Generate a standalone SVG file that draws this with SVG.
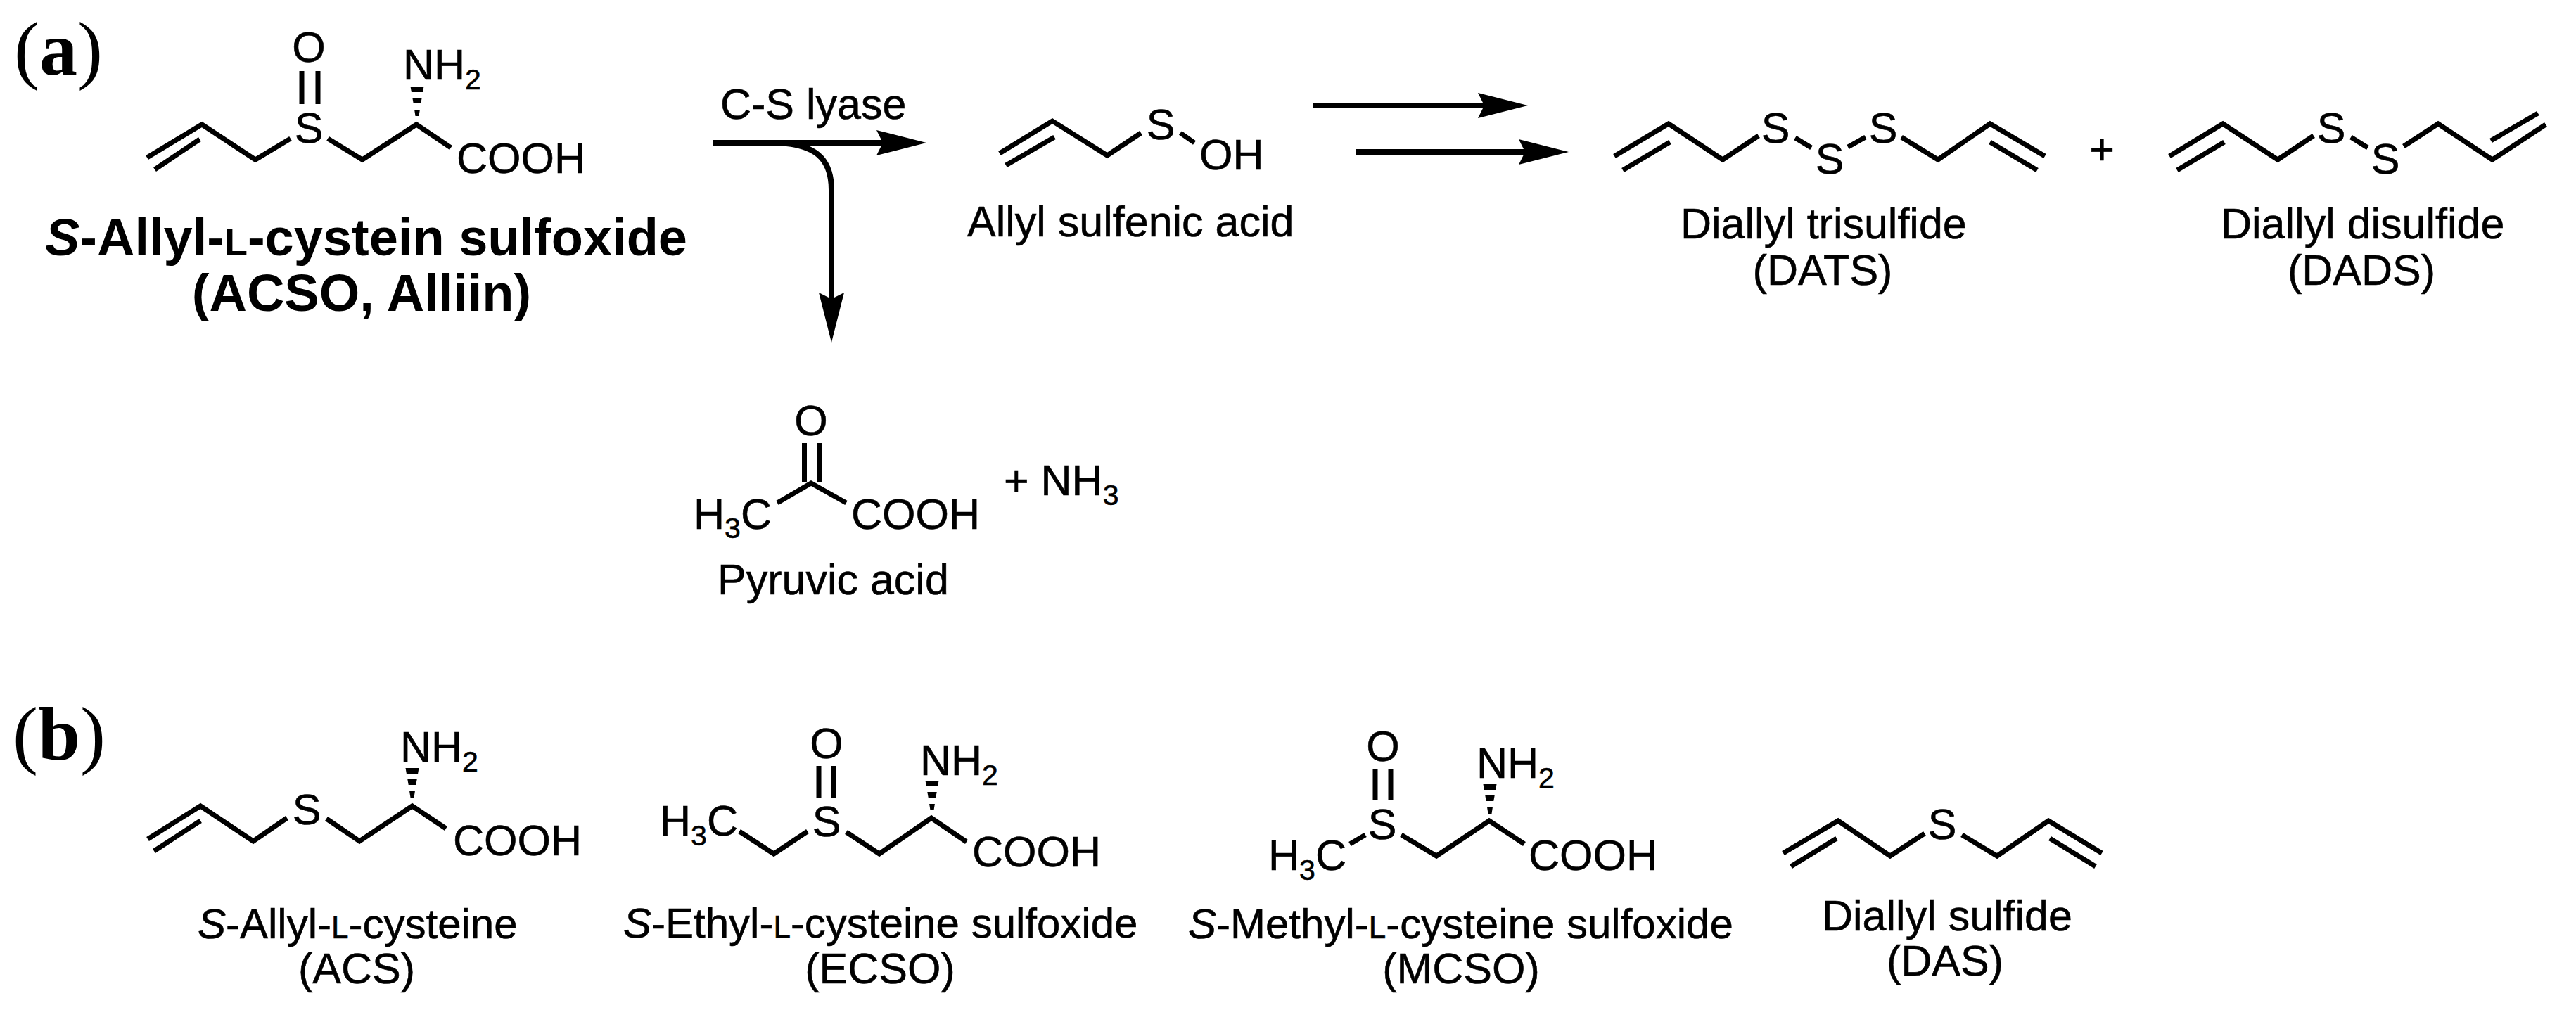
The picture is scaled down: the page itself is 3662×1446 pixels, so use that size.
<svg xmlns="http://www.w3.org/2000/svg" width="3662" height="1446" viewBox="0 0 3662 1446">
<style>
text{font-family:"Liberation Sans",Arial,sans-serif;font-size:61px;fill:#000;stroke:#000;stroke-width:.6}
.b{fill:none;stroke:#000;stroke-width:7}
.a{fill:none;stroke:#000;stroke-width:8}
.sub{font-size:41px}
.sc{font-size:44px}
.nl{font-size:60px}
.nm{font-weight:bold;font-size:74px;stroke-width:0}
.nm .sc{font-size:54px}
.p{font-family:"Liberation Serif","Times New Roman",serif;font-size:108px;font-weight:bold;stroke-width:0}
.pn{font-weight:normal}
.m{text-anchor:middle}
</style>
<defs>
<marker id="ah" markerUnits="userSpaceOnUse" markerWidth="74" markerHeight="38" refX="9" refY="19" orient="auto" overflow="visible"><path d="M0 1L71 19L0 37L9 19Z" fill="#000"/></marker>
<path id="hash" d="M-9.5-54H9.5L8.1-46H-8.1ZM-6.7-38H6.7L5.3-30H-5.3ZM-3.9-21H3.9L2.5-12H-2.5Z" fill="#000"/>
</defs>
<rect width="3662" height="1446" fill="#fff"/>
<g id="connectors">
<path class="a" d="M1014 203H1255" marker-end="url(#ah)"/>
<path class="a" d="M1096 203C1150 203 1182 218 1182 270V425" marker-end="url(#ah)"/>
<path class="a" d="M1866 150H2110" marker-end="url(#ah)"/>
<path class="a" d="M1927 216H2168" marker-end="url(#ah)"/>
</g>
<g id="panel-a"><text class="p" x="20" y="106"><tspan class="pn">(</tspan>a<tspan class="pn">)</tspan></text></g>
<g id="acso">
<path class="b" d="M209 224L287 177L363 227L413 197M220 241L284 198M466 197L515 227L592 177L641 210M429 101V148M452 101V148"/>
<use href="#hash" x="593" y="177"/>
<text x="439" y="203" class="m">S</text><text x="439" y="88" class="m">O</text>
<text x="573" y="113">NH<tspan class="sub" dy="14">2</tspan></text>
<text x="649" y="246">COOH</text>
<text class="nm" x="64" y="363"><tspan font-style="italic">S</tspan>-Allyl-<tspan class="sc">L</tspan>-cystein sulfoxide</text>
<text class="nm m" x="514" y="442">(ACSO, Alliin)</text>
</g>
<g id="cs-lyase"><text x="1024" y="169">C-S lyase</text></g>
<g id="allyl-sulfenic-acid">
<path class="b" d="M1421 218L1496 172L1574 221L1622 189M1430 235L1499 195M1678 189L1698 203"/>
<text x="1650" y="198" class="m">S</text><text x="1705" y="241">OH</text>
<text x="1375" y="336">Allyl sulfenic acid</text>
</g>
<g id="pyruvic-acid">
<path class="b" d="M1105 715L1153 687L1203 715M1143.5 630V686M1164.5 630V686"/>
<text x="1153" y="619" class="m">O</text>
<text x="986" y="752">H<tspan class="sub" dy="13">3</tspan><tspan dy="-13">C</tspan></text>
<text x="1210" y="752">COOH</text>
<text x="1020" y="845">Pyruvic acid</text>
</g>
<g id="nh3"><text x="1427" y="704">+ NH<tspan class="sub" dy="14">3</tspan></text></g>
<g id="dats">
<path class="b" d="M2295 222L2372 176L2449 227L2500 193M2307 242L2374 202M2552 196L2575 210M2627 209L2652 195M2703 195L2755 227L2829 176L2907 222M2829 202L2896 242"/>
<text x="2524" y="203" class="m">S</text><text x="2601" y="247" class="m">S</text><text x="2677" y="203" class="m">S</text>
<text x="2389" y="339">Diallyl trisulfide</text>
<text x="2591" y="405" class="m">(DATS)</text>
</g>
<g id="plus"><text x="2988" y="233" class="m">+</text></g>
<g id="dads">
<path class="b" d="M3084 222L3160 176L3238 227L3289 193M3095 242L3162 202M3342 195L3366 210M3417 208L3466 176L3543 227L3619 177M3541 200L3608 161"/>
<text x="3314" y="203" class="m">S</text><text x="3391" y="247" class="m">S</text>
<text x="3157" y="339">Diallyl disulfide</text>
<text x="3357" y="405" class="m">(DADS)</text>
</g>
<g id="panel-b"><text class="p" x="18" y="1080"><tspan class="pn">(</tspan>b<tspan class="pn">)</tspan></text></g>
<g id="acs">
<path class="b" d="M210 1193L285 1146L360 1196L408 1163M219 1210L285 1167M464 1164L511 1196L586 1146L634 1178"/>
<use href="#hash" x="586" y="1146"/>
<text x="436" y="1172" class="m">S</text>
<text x="569" y="1083">NH<tspan class="sub" dy="14">2</tspan></text>
<text x="644" y="1216">COOH</text>
<text class="nl" x="281" y="1334"><tspan font-style="italic">S</tspan>-Allyl-<tspan class="sc">L</tspan>-cysteine</text>
<text x="507" y="1398" class="m">(ACS)</text>
</g>
<g id="ecso">
<path class="b" d="M1051 1182L1100 1214L1148 1182M1164 1089V1135M1185 1089V1135M1203 1183L1250 1214L1324 1163L1374 1197"/>
<use href="#hash" x="1325" y="1164"/>
<text x="1175" y="1189" class="m">S</text><text x="1175" y="1078" class="m">O</text>
<text x="938" y="1188">H<tspan class="sub" dy="14">3</tspan><tspan dy="-14">C</tspan></text>
<text x="1308" y="1102">NH<tspan class="sub" dy="14">2</tspan></text>
<text x="1382" y="1232">COOH</text>
<text class="nl" x="886" y="1333"><tspan font-style="italic">S</tspan>-Ethyl-<tspan class="sc">L</tspan>-cysteine sulfoxide</text>
<text x="1251" y="1398" class="m">(ECSO)</text>
</g>
<g id="mcso">
<path class="b" d="M1919 1200L1941 1187M1955 1093V1138M1977 1093V1138M1992 1187L2042 1217L2117 1167L2167 1200"/>
<use href="#hash" x="2118" y="1169"/>
<text x="1965" y="1193" class="m">S</text><text x="1966" y="1082" class="m">O</text>
<text x="1803" y="1237">H<tspan class="sub" dy="14">3</tspan><tspan dy="-14">C</tspan></text>
<text x="2099" y="1106">NH<tspan class="sub" dy="14">2</tspan></text>
<text x="2173" y="1237">COOH</text>
<text class="nl" x="1689" y="1334"><tspan font-style="italic">S</tspan>-Methyl-<tspan class="sc">L</tspan>-cysteine sulfoxide</text>
<text x="2077" y="1398" class="m">(MCSO)</text>
</g>
<g id="das">
<path class="b" d="M2535 1213L2613 1167L2687 1217L2736 1185M2546 1232L2611 1192M2789 1187L2839 1217L2912 1167L2988 1213M2914 1192L2979 1232"/>
<text x="2761" y="1193" class="m">S</text>
<text x="2590" y="1323">Diallyl sulfide</text>
<text x="2765" y="1387" class="m">(DAS)</text>
</g>
</svg>
